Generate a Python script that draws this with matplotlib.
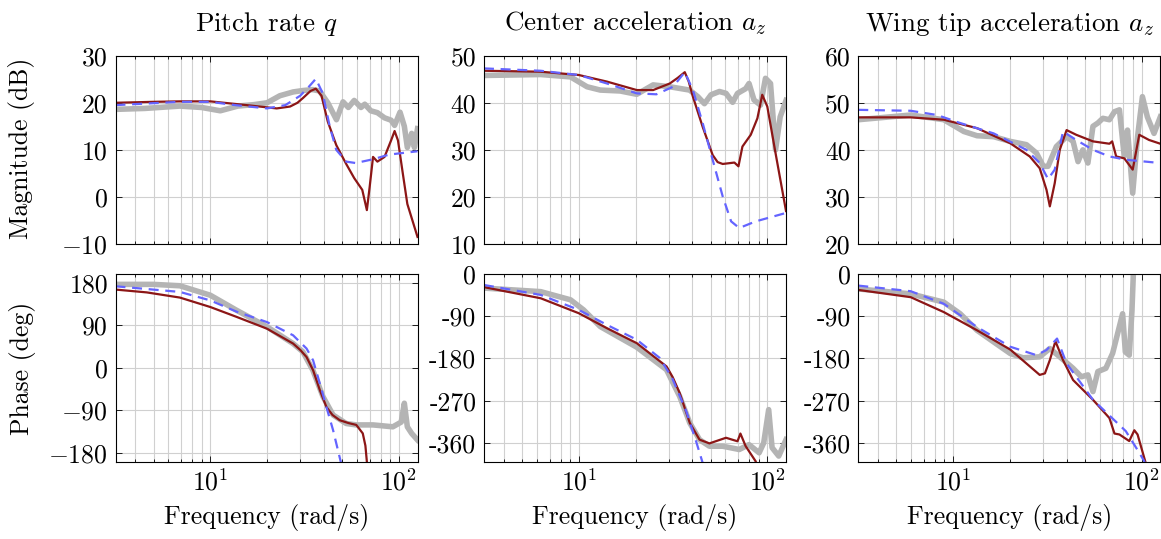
"""Bode comparison: measured vs identified vs model, three outputs."""
import matplotlib
matplotlib.use("Agg")
import matplotlib.pyplot as plt
from matplotlib.ticker import LogLocator, NullFormatter, FixedLocator, FixedFormatter

plt.rcParams["font.family"] = "serif"
plt.rcParams["font.serif"] = ["cmr10"]
plt.rcParams["mathtext.fontset"] = "cm"
plt.rcParams["axes.formatter.use_mathtext"] = True
plt.rcParams["font.size"] = 18.5

GRAY, RED, BLUE = "#b4b4b4", "#8c1616", "#6464ff"
XLIM = (3.1416, 125.66)

# ---- pitch rate q: magnitude (dB)
q_mag_meas_f = [3.14, 4.5, 6.9, 9.0, 11.3, 14, 17, 20, 23.4, 27.5, 31, 35, 38, 42, 46.7, 50.6, 54, 58,
                63, 66, 71, 77, 84, 91, 95, 101.5, 107, 111, 117, 121, 125.7]
q_mag_meas = [18.6, 18.8, 19.3, 19.0, 18.3, 19.3, 19.6, 20.0, 21.5, 22.3, 22.6, 22.8, 22.5, 20.0, 16.4,
              20.2, 19.0, 20.5, 19.0, 19.7, 18.3, 17.9, 16.8, 16.3, 15.2, 18.0, 15.0, 10.5, 13.5, 10.5, 14.5]
q_mag_id_f = [3.14, 5, 6.9, 10, 15.6, 22.5, 26.5, 29, 31, 34, 36.3, 38.9, 42, 46.6, 52.6, 58, 64, 67.7,
              70, 73, 77, 84, 91, 95, 99, 105, 111, 125.7]
q_mag_id = [20.0, 20.2, 20.3, 20.3, 19.5, 18.8, 19.2, 20.0, 21.0, 22.5, 23.0, 21.5, 16.0, 11.0, 7.0, 4.0,
            1.5, -2.8, 2.0, 8.5, 7.5, 8.5, 12.0, 14.0, 12.0, 5.0, -1.5, -8.5]
q_mag_mod_f = [3.14, 6.9, 10, 13.6, 20, 25, 30, 33.5, 36.3, 39.5, 43, 46.6, 52.6, 59, 73, 89, 125.7]
q_mag_mod = [19.5, 20.2, 20.2, 19.5, 18.8, 19.5, 21.5, 23.5, 25.1, 22.0, 15.0, 10.0, 7.5, 7.2, 8.0, 9.0, 9.7]

# ---- pitch rate q: phase (deg)
q_ph_meas_f = [3.14, 5, 6.9, 10, 13.8, 20, 27.5, 31, 35, 39.6, 44.8, 52.6, 59.5, 73, 93, 103, 107, 111,
               117, 125.7]
q_ph_meas = [177, 177, 174, 154, 122, 87, 51.5, 34, -5, -61, -100, -118, -121, -121, -125, -115, -75,
             -125, -139, -153]
q_ph_id_f = [3.14, 4.6, 6.9, 10, 13.8, 20, 27.5, 30, 32.4, 35.1, 38.1, 41.3, 44.5, 48.6, 54, 59.5, 64.4,
             66.5, 67.7, 69]
q_ph_id = [166, 160, 149, 129, 108, 83, 51.5, 38, 23, -5, -47, -83, -100, -111, -117, -121, -139, -165,
           -199, -230]
q_ph_mod_f = [3.14, 6.9, 10, 13.8, 20, 27.5, 32.4, 35.1, 38.1, 41.3, 44.8, 49.2, 52]
q_ph_mod = [173, 161, 143, 119, 97, 69, 41, 16, -33, -83, -132, -199, -230]

# ---- center acceleration: magnitude (dB)
c_mag_meas_f = [3.14, 6.28, 9.04, 11.06, 13.0, 16.6, 20.3, 24.8, 30.4, 38.7, 42.8, 46.4, 50.3, 55.7,
                60.4, 65.5, 69.5, 76.8, 80, 85, 92, 97.8, 104, 110.6, 117, 125.7]
c_mag_meas = [45.8, 46.0, 45.5, 43.4, 42.7, 42.5, 41.8, 43.8, 43.4, 42.7, 41.3, 39.8, 41.7, 42.4, 42.0,
              40.1, 42.0, 43.0, 44.1, 40.6, 39.5, 45.2, 44.1, 30.0, 37.0, 40.5]
c_mag_id_f = [3.14, 6.28, 10, 14.1, 20.3, 24.8, 30.4, 33.5, 36.5, 38.3, 40.3, 45.4, 51.3, 54.5, 58, 66.9,
              70.3, 73.8, 81.7, 88.6, 94, 100, 110.6, 125.7]
c_mag_id = [46.8, 46.6, 45.9, 44.5, 42.7, 42.7, 44.1, 45.3, 46.5, 44.5, 41.3, 34.9, 28.9, 27.4, 27.0,
            27.3, 26.5, 30.7, 33.2, 36.7, 41.7, 39.2, 29.3, 17.0]
c_mag_mod_f = [3.14, 6.28, 10, 14.1, 20.3, 25.8, 31.6, 36.5, 40.3, 45.4, 51.3, 58, 64.3, 71, 86.7, 125.7]
c_mag_mod = [47.3, 46.8, 45.9, 44.1, 42.0, 41.8, 43.4, 46.5, 42.7, 35.7, 27.9, 20.1, 14.8, 13.4, 14.8, 16.6]

# ---- center acceleration: phase (deg)
c_ph_meas_f = [3.14, 6.28, 9.04, 10.6, 13.0, 20.3, 29.2, 34.3, 38.8, 43.7, 49.3, 58, 71, 80, 90.5, 95.7,
               101.7, 106, 115, 125.7]
c_ph_meas = [-30, -37.6, -55, -76.5, -112, -156, -204, -261, -317.5, -353, -367, -367, -374, -363.6,
             -381, -360, -289, -370, -388, -353]
c_ph_id_f = [3.14, 6.28, 10, 14.1, 20.3, 29.2, 31.5, 34.3, 38.8, 43.7, 49.3, 60.4, 69.5, 72, 76.8, 86.7, 90]
c_ph_id = [-28, -51.7, -83.6, -115.5, -147.4, -197, -220, -253.7, -317.5, -353, -361, -349, -356.5, -340,
           -367, -399, -420]
c_ph_mod_f = [3.14, 6.28, 10, 14.1, 20.3, 26.9, 31.3, 37.2, 41.9, 46.0]
c_ph_mod = [-23.4, -44.6, -76.5, -108.4, -140, -179, -222, -293, -356.5, -410]

# ---- wing tip acceleration: magnitude (dB)
w_mag_meas_f = [3.14, 5.96, 8.93, 11.4, 13.4, 16.4, 20.1, 24.5, 27.7, 30.1, 31.9, 35.3, 40.0, 43.3, 46.0,
                48.8, 51.9, 55.2, 58.6, 62.3, 67.5, 71.8, 76.3, 80.9, 84.2, 89.7, 95.2, 101, 107.3,
                116.4, 125.7]
w_mag_meas = [46.4, 47.4, 46.4, 43.9, 43.0, 42.8, 41.8, 41.1, 39.3, 36.5, 36.5, 40.7, 42.8, 41.8, 37.5,
              40.0, 37.2, 45.0, 45.7, 46.7, 46.4, 48.1, 48.5, 38.6, 44.2, 30.8, 42.8, 51.3, 47.0, 43.5,
              47.0]
w_mag_id_f = [3.14, 5.96, 8.93, 13.4, 20.1, 25.5, 28.8, 31.3, 32.6, 34.6, 36.8, 40.0, 45.0, 55.2, 67.5,
              69.8, 73.3, 80.9, 89.7, 97.2, 109.5, 125.7]
w_mag_id = [46.9, 46.9, 46.4, 44.6, 41.4, 38.6, 36.1, 31.5, 28.0, 32.9, 40.0, 44.2, 43.2, 41.8, 41.3,
            41.8, 38.6, 38.2, 35.8, 43.2, 42.1, 41.3]
w_mag_mod_f = [3.14, 5.96, 8.23, 10.9, 16.4, 24.5, 28.8, 31.9, 34.6, 38.3, 45.0, 55.2, 67.5, 82.5, 125.7]
w_mag_mod = [48.5, 48.3, 47.4, 45.7, 43.5, 40.0, 37.2, 33.8, 35.8, 43.9, 42.1, 40.0, 38.6, 37.9, 37.2]

# ---- wing tip acceleration: phase (deg)
w_ph_meas_f = [3.14, 5.96, 8.93, 10.9, 13.4, 16.4, 20.1, 23.5, 28.8, 32.6, 36.8, 43.3, 47.9, 51.9, 55.2,
               58.6, 64.6, 70.2, 74.6, 79.3, 82, 86, 88.9, 90.4, 91]
w_ph_meas = [-31.8, -42.4, -60, -84.7, -120, -144.7, -169.4, -178.6, -176.5, -158.8, -176.5, -201, -219,
             -215, -250.6, -208, -201, -169, -127, -84.7, -166, -173, -77.6, 0, 20]
w_ph_id_f = [3.14, 5.96, 8.93, 13.4, 20.1, 28.8, 30.7, 32.6, 34.9, 38.3, 43.3, 55.2, 67.5, 71.8, 76.3,
             86, 91.5, 95.2, 104.5, 108]
w_ph_id = [-33.9, -49.4, -81.2, -120, -161, -215, -211.8, -183.5, -143.3, -183.5, -225.9, -268, -307,
           -340, -342, -356, -333, -342, -399, -420]
w_ph_mod_f = [3.14, 5.96, 8.93, 13.4, 20.1, 27.7, 31.3, 35.6, 40.0, 55.2, 82.5, 97.2, 103.3, 106]
w_ph_mod = [-24.7, -36.7, -63.5, -113, -155, -173, -162, -137.6, -190.6, -268, -335, -381, -399, -415]

titles = ["Pitch rate $q$", "Center acceleration $a_z$", "Wing tip acceleration $a_z$"]
mag_ylims = [(-10, 30), (10, 50), (20, 60)]
mag_ticks = [[-10, 0, 10, 20, 30], [10, 20, 30, 40, 50], [20, 30, 40, 50, 60]]
mag_ticklabels = [["$-10$", "0", "10", "20", "30"], ["10", "20", "30", "40", "50"],
                  ["20", "30", "40", "50", "60"]]
ph_ylims = [(-199, 199), (-400, 0), (-400, 0)]
ph_ticks = [[-180, -90, 0, 90, 180], [-360, -270, -180, -90, 0], [-360, -270, -180, -90, 0]]
ph_ticklabels = [["$-180$", "$-90$", "0", "90", "180"], ["-360", "-270", "-180", "-90", "0"],
                 ["-360", "-270", "-180", "-90", "0"]]

mag_data = [
    ((q_mag_meas_f, q_mag_meas), (q_mag_id_f, q_mag_id), (q_mag_mod_f, q_mag_mod)),
    ((c_mag_meas_f, c_mag_meas), (c_mag_id_f, c_mag_id), (c_mag_mod_f, c_mag_mod)),
    ((w_mag_meas_f, w_mag_meas), (w_mag_id_f, w_mag_id), (w_mag_mod_f, w_mag_mod)),
]
ph_data = [
    ((q_ph_meas_f, q_ph_meas), (q_ph_id_f, q_ph_id), (q_ph_mod_f, q_ph_mod)),
    ((c_ph_meas_f, c_ph_meas), (c_ph_id_f, c_ph_id), (c_ph_mod_f, c_ph_mod)),
    ((w_ph_meas_f, w_ph_meas), (w_ph_id_f, w_ph_id), (w_ph_mod_f, w_ph_mod)),
]

W, H = 1161, 539
fig = plt.figure(figsize=(W / 100, H / 100), dpi=100)
lefts = [115.5, 484, 858.3]


def style(ax, ylim, ticks, labels, show_x):
    ax.set_xscale("log")
    ax.set_xlim(*XLIM)
    ax.set_ylim(*ylim)
    ax.xaxis.set_major_locator(LogLocator(base=10, numticks=10))
    ax.xaxis.set_minor_locator(LogLocator(base=10, subs=range(2, 10), numticks=20))
    ax.xaxis.set_minor_formatter(NullFormatter())
    if not show_x:
        ax.xaxis.set_major_formatter(NullFormatter())
    ax.yaxis.set_major_locator(FixedLocator(ticks))
    ax.yaxis.set_major_formatter(FixedFormatter(labels))
    ax.grid(True, which="both", axis="x", color="#d0d0d0", lw=0.8)
    ax.grid(True, which="major", axis="y", color="#d0d0d0", lw=0.8)
    ax.set_axisbelow(True)
    ax.tick_params(which="both", direction="in", top=True, right=True, width=0.6, pad=5.5)
    ax.tick_params(which="major", length=4)
    ax.tick_params(which="minor", length=2.5)
    for s in ax.spines.values():
        s.set_linewidth(0.8)


def curves(ax, data):
    (mf, mv), (idf, idv), (mdf, mdv) = data
    ax.plot(mf, mv, color=GRAY, lw=4.0, solid_joinstyle="round")
    ax.plot(idf, idv, color=RED, lw=1.6)
    ax.plot(mdf, mdv, color=BLUE, lw=1.6, linestyle=(0, (4.5, 3)))


for i in range(3):
    ax_m = fig.add_axes([lefts[i] / W, 1 - 244 / H, 302 / W, 188.3 / H])
    ax_p = fig.add_axes([lefts[i] / W, 1 - 461.7 / H, 302 / W, 187.7 / H])
    style(ax_m, mag_ylims[i], mag_ticks[i], mag_ticklabels[i], False)
    style(ax_p, ph_ylims[i], ph_ticks[i], ph_ticklabels[i], True)
    curves(ax_m, mag_data[i])
    curves(ax_p, ph_data[i])
    ax_m.set_title(titles[i], pad=18, fontsize=19.5)
    ax_p.set_xlabel("Frequency (rad/s)", labelpad=6)

fig.text(22 / W, 1 - 148 / H, "Magnitude (dB)", rotation=90, ha="center", va="center")
fig.text(22 / W, 1 - 368 / H, "Phase (deg)", rotation=90, ha="center", va="center")

fig.savefig("out.png", dpi=100)
